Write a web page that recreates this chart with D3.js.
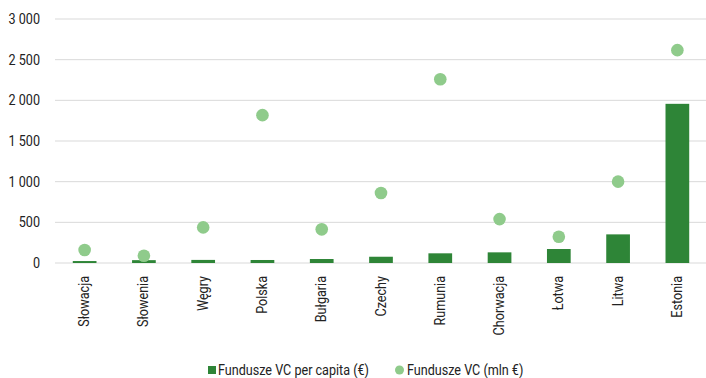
<!DOCTYPE html>
<html><head><meta charset="utf-8">
<script src="https://cdn.jsdelivr.net/npm/d3@7"></script>
<style>body{margin:0;background:#fff}</style>
</head><body>
<svg id="c" width="706" height="378"></svg>
<script>
const categories = ["Słowacja","Słowenia","Węgry","Polska","Bułgaria","Czechy","Rumunia","Chorwacja","Łotwa","Litwa","Estonia"];
const perCapita = [24, 35, 38, 37, 49, 77, 119, 131, 172, 352, 1957];
const totalMln = [160, 90, 438, 1818, 414, 860, 2260, 540, 323, 1000, 2617];
const yTicks = [0, 500, 1000, 1500, 2000, 2500, 3000];
const seriesNames = ["Fundusze VC per capita (€)", "Fundusze VC (mln €)"];
const barColor = "#2e8537", dotColor = "#8fcb8b";
const font = "Roboto, sans-serif";
const fs = 14, sx = 0.9;

const svg = d3.select("#c");
const m = {l:55, t:19};
const x = d3.scaleBand().domain(categories).range([m.l, 707]).paddingInner(0.6).paddingOuter(0.3);
const y = d3.scaleLinear().domain([0, 3000]).range([263, 19]);

svg.append("g").selectAll("line").data(yTicks).join("line")
  .attr("x1", m.l).attr("x2", 706).attr("y1", d => y(d)).attr("y2", d => y(d))
  .attr("stroke", "#d9d9d9").attr("stroke-width", 1);

svg.append("g").selectAll("text").data(yTicks).join("text")
  .attr("transform", d => `translate(40,${y(d)}) scale(${sx},1)`)
  .attr("dy", "0.35em").attr("text-anchor", "end")
  .attr("font-family", font).attr("font-size", fs).attr("fill", "#222")
  .text(d => d === 0 ? "0" : d3.format(",")(d).replace(/,/g, " "));

svg.append("g").selectAll("rect").data(categories).join("rect")
  .attr("x", d => x(d)).attr("width", x.bandwidth())
  .attr("y", (d,i) => y(perCapita[i])).attr("height", (d,i) => y(0) - y(perCapita[i]))
  .attr("fill", barColor);

svg.append("g").selectAll("circle").data(categories).join("circle")
  .attr("cx", d => x(d) + x.bandwidth()/2).attr("cy", (d,i) => y(totalMln[i]))
  .attr("r", 6.3).attr("fill", dotColor);

svg.append("g").selectAll("text").data(categories).join("text")
  .attr("transform", d => `translate(${x(d) + x.bandwidth()/2 + 4.5},276) rotate(-90) scale(${sx},1)`)
  .attr("text-anchor", "end")
  .attr("font-family", font).attr("font-size", fs).attr("fill", "#222")
  .text(d => d);

const lg = svg.append("g").attr("font-family", font).attr("font-size", fs).attr("fill", "#222");
lg.append("rect").attr("x", 208).attr("y", 366).attr("width", 8).attr("height", 8).attr("fill", barColor);
lg.append("text").attr("transform", `translate(218,370) scale(${sx},1)`).attr("dy", "0.35em").text(seriesNames[0]);
lg.append("circle").attr("cx", 399.5).attr("cy", 370).attr("r", 4.5).attr("fill", dotColor);
lg.append("text").attr("transform", `translate(407,370) scale(${sx},1)`).attr("dy", "0.35em").text(seriesNames[1]);
</script>
</body></html>
